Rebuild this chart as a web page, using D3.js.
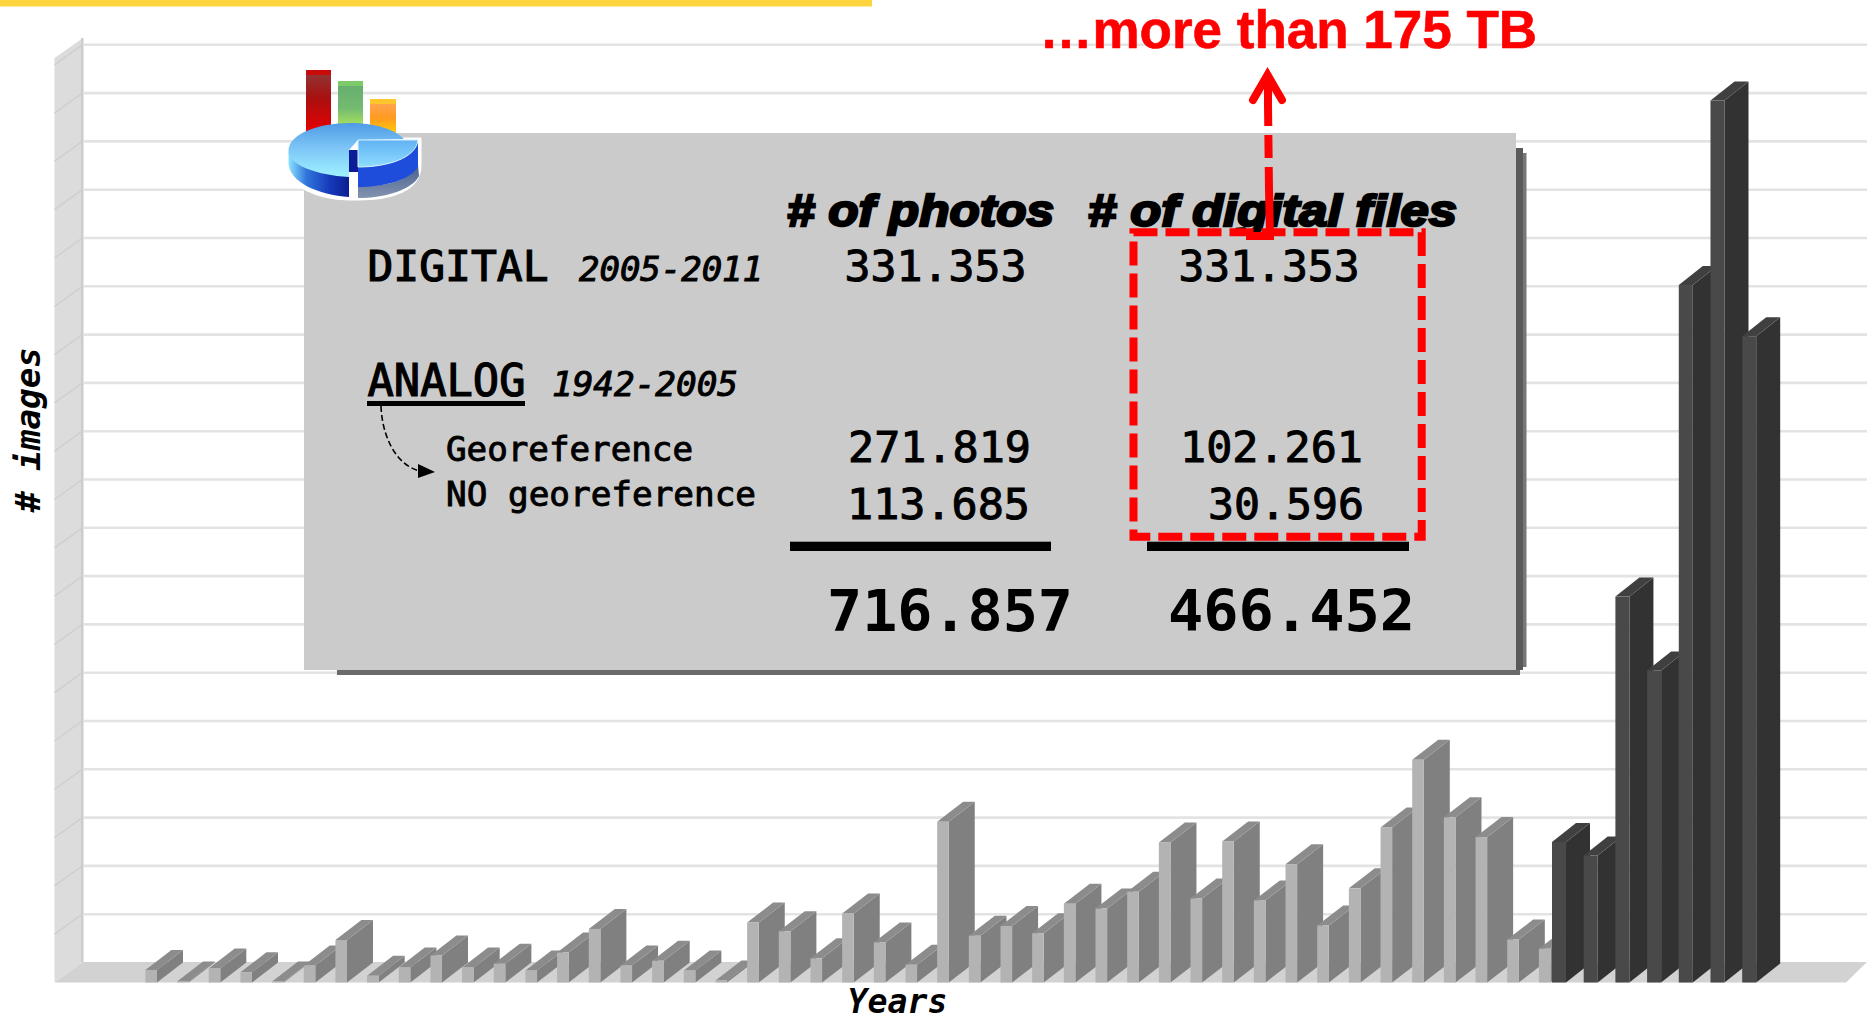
<!DOCTYPE html>
<html>
<head>
<meta charset="utf-8">
<script src="https://d3js.org/d3.v7.min.js"></script>
<style>
  html, body { margin: 0; padding: 0; background: #fff; overflow: hidden; }
  svg { display: block; }
</style>
</head>
<body>
<div id="chart"></div>
<script>
/* Images per year. One gridline is 5000 images */
const analogBars = d3.range(1, 46);
const analogValues = [
    1300, 100, 1450, 1050, 100, 1750, 4400, 700, 1550, 2800, 1550, 1950, 1250, 3100, 5550,
    1750, 2250, 1250, 200, 6200, 5300, 2500, 7150, 4150, 1850, 16650, 4850, 5850, 5100, 8150,
    7650, 9400, 14500, 8700, 14600, 8500, 12250, 5900, 9750, 16050, 23050, 17100, 15050, 4450, 3500
];
const digitalYears = ["2005", "2006", "2007", "2008", "2009", "2010", "2011"];
const digitalValues = [14550, 13150, 39950, 32300, 72200, 91300, 66903];
const gridValues = d3.range(0, 100000, 5000);

const width = 1867,
      height = 1021,
      floorY = 982.5,
      gridStep = 48.3,
      wallDx = 28.5,
      wallDy = 20.5;

const analog = analogBars.map((d, i) => ({key: d, value: analogValues[i]}));
const digital = digitalYears.map((d, i) => ({key: d, value: digitalValues[i]}));

const svg = d3.select("#chart")
    .append("svg")
    .attr("width", width)
    .attr("height", height)
    .attr("viewBox", [0, 0, width, height])
    .style("background", "#fff");

const defs = svg.append("defs");

defs.append("filter").attr("id", "soft")
    .append("feGaussianBlur").attr("stdDeviation", 0.6);

function gradient(id, stops, horizontal) {
    const g = defs.append("linearGradient").attr("id", id)
        .attr("x1", 0).attr("y1", 0)
        .attr("x2", horizontal ? 1 : 0).attr("y2", horizontal ? 0 : 1);
    stops.forEach(s => g.append("stop").attr("offset", s[0]).attr("stop-color", s[1]));
}
gradient("redBar", [[0, "#8f3a3a"], [0.45, "#a81010"], [1, "#e80000"]]);
gradient("greenBar", [[0, "#64ad6e"], [0.6, "#74bb70"], [1, "#aee45c"]]);
gradient("orangeBar", [[0, "#ffa85c"], [0.5, "#ff9a20"], [1, "#ffd800"]]);
gradient("pieTop", [[0, "#4f9be6"], [0.45, "#7cc4f6"], [1, "#9ff2ff"]]);
gradient("pieSide", [[0, "#8fe4ff"], [0.3, "#2f74dc"], [0.7, "#1638b8"], [1, "#0c1e90"]], true);
gradient("sliceTop", [[0, "#62b2f4"], [1, "#8edcff"]]);
gradient("sliceShadow", [[0, "#46608e"], [1, "#8494b0"]]);

/* Scales */
const y = d3.scaleLinear()
    .domain([0, 95000])
    .range([floorY, floorY - 19 * gridStep]);

const xAnalog = d3.scaleBand()
    .domain(analogBars)
    .range([145.4, 145.4 + 31.67 * 44 + 11.6])
    .paddingInner(0.634);

const xDigital = d3.scaleBand()
    .domain(digitalYears)
    .range([1552, 1552 + 31.7 * 6 + 14])
    .paddingInner(0.558);

const chart = svg.append("g").attr("filter", "url(#soft)");

/* Wall and floor */
const wallLeft = 83 - wallDx;
chart.append("polygon")
    .attr("fill", "#dcdcdc")
    .attr("points", [[wallLeft, floorY], [83, floorY - wallDy], [83, 38], [wallLeft, 58]].join(" "));

chart.append("g").selectAll("line")
    .data(gridValues.slice(1))
    .join("line")
    .attr("x1", wallLeft).attr("x2", 83)
    .attr("y1", d => y(d))
    .attr("y2", d => y(d) - wallDy)
    .attr("stroke", "#cfcfcf")
    .attr("stroke-width", 1.5);

chart.append("polygon")
    .attr("fill", "#d2d2d2")
    .attr("points", [[wallLeft, floorY], [83, floorY - wallDy], [width, floorY - wallDy], [1846, floorY]].join(" "));

chart.append("rect")
    .attr("x", 81).attr("y", 38)
    .attr("width", 2.5).attr("height", 924)
    .attr("fill", "#cccccc");

/* Gridlines on the back wall */
const grid = d3.axisRight(y)
    .tickValues(gridValues.slice(1))
    .tickSize(width - 83)
    .tickFormat("");

chart.append("g")
    .attr("transform", `translate(83, ${-wallDy})`)
    .call(grid)
    .call(g => g.select(".domain").remove())
    .call(g => g.selectAll("line").attr("stroke", "#e3e3e3").attr("stroke-width", 2.6));

/* 3D bars, left to right so each front covers the side of the one before */
function bars(data, x, dx, dy, colors) {
    const bar = chart.append("g").selectAll("g")
        .data(data)
        .join("g");

    bar.append("polygon")
        .attr("fill", colors.side)
        .attr("points", d => {
            const r = x(d.key) + x.bandwidth();
            return [[r, y(0)], [r + dx, y(0) - dy], [r + dx, y(d.value) - dy], [r, y(d.value)]].join(" ");
        });

    bar.append("polygon")
        .attr("fill", colors.top)
        .attr("points", d => {
            const l = x(d.key), r = l + x.bandwidth();
            return [[l, y(d.value)], [r, y(d.value)], [r + dx, y(d.value) - dy], [l + dx, y(d.value) - dy]].join(" ");
        });

    bar.append("rect")
        .attr("fill", colors.front)
        .attr("x", d => x(d.key))
        .attr("y", d => y(d.value))
        .attr("width", x.bandwidth())
        .attr("height", d => y(0) - y(d.value));
}

bars(analog, xAnalog, 26, 20, {front: "#b3b3b3", side: "#808080", top: "#8c8c8c"});
bars(digital, xDigital, 24, 19, {front: "#484848", side: "#333333", top: "#414141"});

/* Yellow strip on top of the slide */
svg.append("rect")
    .attr("x", 0).attr("y", 0)
    .attr("width", 872).attr("height", 6.5)
    .attr("fill", "#ffd53f");

/* Grey table box and its shadow */
const box = svg.append("g");
box.append("rect").attr("x", 337).attr("y", 668).attr("width", 1183).attr("height", 7).attr("fill", "#6a6a6a");
box.append("rect").attr("x", 1515).attr("y", 148).attr("width", 8).attr("height", 522).attr("fill", "#5a5a5a");
box.append("rect").attr("x", 1523).attr("y", 153).attr("width", 3.5).attr("height", 514).attr("fill", "#777777");
box.append("rect").attr("x", 304).attr("y", 133).attr("width", 1212).attr("height", 537).attr("fill", "#cbcbcb");

/* Small chart icon */
const icon = svg.append("g");
[["redBar", "#c80a0a", 306, 70, 25, 62], ["greenBar", "#7ccb68", 338, 81, 25, 46], ["orangeBar", "#ffc52c", 370, 99, 26, 38]]
    .forEach(b => {
        icon.append("rect").attr("x", b[2]).attr("y", b[3]).attr("width", b[4]).attr("height", b[5]).attr("fill", `url(#${b[0]})`);
        icon.append("rect").attr("x", b[2]).attr("y", b[3]).attr("width", b[4]).attr("height", 5).attr("fill", b[1]);
    });
icon.append("path")
    .attr("d", "M288,163 C288,187 318,198 349,199 L356,199 L358,199 C392,199 420,190 420,165 L420,139 L349,139 Z")
    .attr("fill", "#fff").attr("stroke", "#fff").attr("stroke-width", 3);
icon.append("path")
    .attr("d", "M358,186 C390,187 410,179 418,165 L419,176 C412,190 385,198 358,198 Z")
    .attr("fill", "url(#sliceShadow)");
icon.append("path")
    .attr("d", "M288.5,152 L288.5,163 C289,182 318,195 349,197 L349,160 Z")
    .attr("fill", "url(#pieSide)");
icon.append("path")
    .attr("d", "M349,177 C316,175 288.5,165 288.5,151 C288.5,134 318,123 350,123 C376,123 396,130 404,139 L358,140 L349,150 Z")
    .attr("fill", "url(#pieTop)");
icon.append("rect").attr("x", 349).attr("y", 150).attr("width", 9).attr("height", 22).attr("fill", "#0c1c96");
icon.append("path")
    .attr("d", "M358,167 C385,167 410,160 418,142 L418,167 C410,180 385,187 358,187 Z")
    .attr("fill", "#1f4ddb");
icon.append("path")
    .attr("d", "M358,140 L418,140 C416,158 388,167 358,167 Z")
    .attr("fill", "url(#sliceTop)").attr("stroke", "#d5f2ff").attr("stroke-width", 1);

/* Texts: width is the measured length of the string in the picture */
const mono = "'DejaVu Sans Mono', monospace";

function label(text, x, baseline, length, size, opts = {}) {
    const t = svg.append("text")
        .text(text)
        .attr("x", x)
        .attr("y", baseline)
        .attr("textLength", length)
        .attr("lengthAdjust", "spacingAndGlyphs")
        .style("font-family", opts.family || mono)
        .style("font-size", size + "px")
        .style("font-weight", opts.weight || "normal")
        .style("font-style", opts.style || "normal")
        .style("fill", opts.fill || "#000");
    if (opts.stroke) {
        t.style("stroke", opts.fill || "#000").style("stroke-width", opts.stroke);
    }
    return t;
}

const header = {family: "'Liberation Sans', Arial, sans-serif", weight: "bold", style: "italic", stroke: 2.4};
label("# of photos", 787, 226, 267, 44, header);
label("# of digital files", 1088, 226, 369, 44, header);

label("DIGITAL", 367.5, 280.5, 181, 43, {stroke: 1.2});
label("2005-2011", 579, 280.5, 184, 33, {style: "italic", stroke: 1});
label("ANALOG", 367.5, 396, 158, 44, {stroke: 1.2});
label("1942-2005", 552, 396, 186, 33, {style: "italic", stroke: 1});
label("Georeference", 446, 461, 247, 33, {stroke: 0.9});
label("NO georeference", 446, 506, 310, 33, {stroke: 0.9});

label("331.353", 844.5, 281, 182, 43, {stroke: 1});
label("271.819", 848, 461.5, 183, 43, {stroke: 1});
label("113.685", 847, 518.5, 183, 43, {stroke: 1});
label("716.857", 827, 631, 246, 57, {weight: "bold"});

label("331.353", 1178.5, 281, 181, 43, {stroke: 1});
label("102.261", 1180, 461.5, 183, 43, {stroke: 1});
label("30.596", 1208, 519, 156, 43, {stroke: 1});
label("466.452", 1168, 631, 247, 57, {weight: "bold"});

/* Rules under the text */
svg.append("rect").attr("x", 367).attr("y", 401).attr("width", 158).attr("height", 5).attr("fill", "#000");
svg.append("rect").attr("x", 790).attr("y", 541.7).attr("width", 261).attr("height", 9.3).attr("fill", "#000");
svg.append("rect").attr("x", 1147).attr("y", 541.7).attr("width", 262).attr("height", 9.3).attr("fill", "#000");

/* Curved black arrow */
svg.append("path")
    .attr("d", "M381,406 C382,435 395,465 420,471")
    .attr("fill", "none")
    .attr("stroke", "#000")
    .attr("stroke-width", 1.6)
    .attr("stroke-dasharray", "6 3");
svg.append("path").attr("d", "M418,464 L435,472 L418,478 Z").attr("fill", "#000");

/* Red dashed box and arrow */
const red = "#ff0000";
svg.append("rect")
    .attr("x", 1133.5).attr("y", 232.3)
    .attr("width", 288.2).attr("height", 304.4)
    .attr("fill", "none")
    .attr("stroke", red)
    .attr("stroke-width", 8)
    .attr("stroke-dasharray", "24 8");
svg.append("path")
    .attr("d", "M1246,236 L1270,236 L1269,190")
    .attr("fill", "none")
    .attr("stroke", red)
    .attr("stroke-width", 8);
svg.append("path")
    .attr("d", "M1269,190 L1268,104")
    .attr("fill", "none")
    .attr("stroke", red)
    .attr("stroke-width", 8)
    .attr("stroke-dasharray", "23 9");
svg.append("path")
    .attr("d", "M1268,108 L1268,80")
    .attr("fill", "none")
    .attr("stroke", red)
    .attr("stroke-width", 8);
svg.append("path")
    .attr("d", "M1253,100 L1267.5,75 L1282,100")
    .attr("fill", "none")
    .attr("stroke", red)
    .attr("stroke-width", 8)
    .attr("stroke-linecap", "round")
    .attr("stroke-linejoin", "miter");

label("…more than 175 TB", 1039.5, 48.3, 497.5, 54, {family: "'Liberation Sans', Arial, sans-serif", weight: "bold", fill: red, stroke: 0.6});

/* Axis titles */
label("Years", 847.5, 1013, 100, 33, {style: "italic", weight: "bold"});
label("# images", 0, 0, 165, 33, {style: "italic", weight: "bold"})
    .attr("transform", "translate(40, 512) rotate(-90)");
</script>
</body>
</html>
